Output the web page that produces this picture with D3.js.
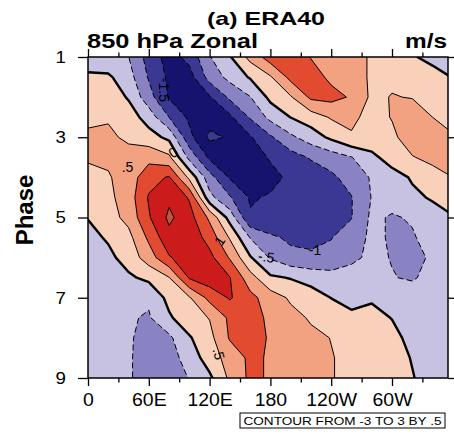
<!DOCTYPE html>
<meta charset="utf-8">
<style>

body {
  margin: 0;
  background: #fff;
}

text {
  font-family: "Liberation Sans", Arial, Helvetica, sans-serif;
}

.axis path.domain {
  display: none;
}

.axis line {
  stroke: #000;
  stroke-width: 1.3px;
}

</style>
<svg width="454" height="434"></svg>
<script src="https://d3js.org/d3.v7.min.js"></script>
<script>

// grid the field is sampled on: longitude (deg E) and MJO phase
var lons = d3.range(0, 361, 20),
    phases = d3.range(1, 9.01, 0.5);

// 850 hPa zonal wind anomaly (m/s), one row per half phase
var p10 = [-0.25, -0.38, -0.49, -1.2, -1.7, -1.35, -0.53, -0.04, 0.65, 1.25, 1.3, 0.98, 0.8, 0.63, 0.46, 0.25, 0.05, -0.15, -0.3],
    p15 = [0.08, 0.08, -0.3, -1.05, -1.6, -1.7, -0.8, -0.35, 0.05, 0.45, 1.15, 1.2, 0.9, 0.66, 0.45, 0.42, 0.4, 0.2, -0.02],
    p20 = [0.3, 0.3, -0.05, -0.8, -1.55, -1.75, -1.55, -0.9, -0.52, 0.13, 0.45, 1.1, 1.15, 0.95, 0.4, 0.52, 0.48, 0.3, 0.15],
    p25 = [0.38, 0.45, 0.25, -0.22, -1.0, -1.6, -1.8, -1.6, -0.95, -0.36, 0.01, 0.25, 0.55, 0.6, 0.35, 0.52, 0.75, 0.5, 0.3],
    p30 = [0.6, 0.6, 0.4, 0.2, -0.12, -1.35, -2.1, -1.95, -1.55, -1.07, -0.6, -0.25, 0.1, 0.45, 0.3, 0.42, 0.7, 0.7, 0.55],
    p35 = [0.58, 0.6, 0.7, 0.85, 0.6, -0.65, -1.6, -1.8, -1.75, -1.45, -1.2, -0.95, -0.75, -0.52, -0.12, 0.22, 0.48, 0.6, 0.55],
    p40 = [0.3, 0.45, 0.75, 1.3, 1.55, 0.38, -0.8, -1.55, -1.85, -1.65, -1.4, -1.3, -1.1, -0.8, -0.45, -0.2, 0.05, 0.35, 0.5],
    p45 = [0.25, 0.38, 0.75, 1.55, 1.9, 1.45, -0.35, -0.95, -1.55, -1.45, -1.4, -1.35, -1.25, -1.02, -0.48, -0.3, -0.1, 0.05, 0.15],
    p50 = [0.02, 0.3, 0.65, 1.45, 2.1, 1.7, 0.9, -0.2, -1.45, -1.48, -1.45, -1.35, -1.25, -1.02, -0.4, -0.55, -0.45, -0.2, -0.02],
    p55 = [-0.15, 0.06, 0.35, 1.1, 1.85, 1.85, 1.3, 0.45, -0.52, -0.9, -1.1, -1.15, -1.02, -0.75, -0.4, -0.55, -0.55, -0.3, -0.25],
    p60 = [-0.3, -0.12, 0.2, 0.75, 1.45, 1.8, 1.65, 0.95, 0.05, -0.55, -0.85, -0.9, -0.85, -0.6, -0.4, -0.52, -0.6, -0.45, -0.3],
    p65 = [-0.3, -0.25, -0.08, 0.12, 0.48, 1.55, 1.8, 1.52, 0.7, 0.08, -0.03, -0.2, -0.3, -0.3, -0.3, -0.48, -0.55, -0.35, -0.3],
    p70 = [-0.35, -0.35, -0.3, -0.42, 0.15, 0.45, 1.15, 1.55, 1.15, 0.75, 0.43, 0.25, -0.01, -0.15, -0.04, -0.15, -0.25, -0.25, -0.25],
    p75 = [-0.35, -0.4, -0.45, -0.55, -0.07, 0.3, 0.52, 1.1, 1.2, 0.9, 0.65, 0.45, 0.3, 0.1, 0.1, -0.01, -0.2, -0.3, -0.3],
    p80 = [-0.35, -0.4, -0.45, -0.65, -0.6, -0.05, 0.35, 1.05, 1.2, 0.95, 0.75, 0.6, 0.49, 0.35, 0.25, 0.1, -0.1, -0.25, -0.3],
    p85 = [-0.35, -0.4, -0.45, -0.7, -0.7, -0.3, 0.25, 0.7, 1.1, 0.95, 0.8, 0.65, 0.52, 0.4, 0.3, 0.15, -0.02, -0.2, -0.3],
    p90 = [-0.35, -0.4, -0.45, -0.7, -0.75, -0.48, -0.1, 0.6, 1.1, 0.95, 0.8, 0.65, 0.52, 0.4, 0.3, 0.15, 0.02, -0.15, -0.25];

var field = [p10, p15, p20, p25, p30, p35, p40, p45, p50, p55, p60, p65, p70, p75, p80, p85, p90];

// shading levels (lower bound of each band) and their colours
var bands = [-2.5, -2, -1.5, -1, -0.5, 0, 0.5, 1, 1.5, 2],
    bandColors = ["#3d3b88", "#15136e", "#3a3893", "#8a83c3", "#c7c2e2",
                  "#f9d1ba", "#f2a181", "#e34b31", "#cb1c1b", "#c4553d"];

var lineLevels = [-2, -1.5, -1, -0.5, 0, 0.5, 1, 1.5, 2];

var xTicks = [0, 60, 120, 180, 240, 300],
    xTickLabels = ["0", "60E", "120E", "180", "120W", "60W"],
    xMinor = [30, 90, 150, 210, 270, 330],
    yTicks = [1, 3, 5, 7, 9];

// contour labels as drawn in the figure
var contourLabels = [
  {lon: 75, phase: 1.82, text: "-1.5", angle: 90},
  {lon: 84, phase: 3.38, text: "0", angle: -35},
  {lon: 39, phase: 3.75, text: ".5", angle: 0},
  {lon: 130, phase: 5.58, text: "1", angle: -55},
  {lon: 176, phase: 5.98, text: "-.5", angle: 8},
  {lon: 224, phase: 5.8, text: "-1", angle: 0},
  {lon: 129, phase: 8.4, text: ".5", angle: 75}
];

var svg = d3.select("svg");

var x = d3.scaleLinear().domain([0, 360]).range([88, 452.8]),
    y = d3.scaleLinear().domain([1, 9]).range([57, 378]);

var fx0 = 88, fy0 = 57, fx1 = 448, fy1 = 378;

svg.append("clipPath")
    .attr("id", "clip")
  .append("rect")
    .attr("x", fx0)
    .attr("y", fy0)
    .attr("width", fx1 - fx0)
    .attr("height", fy1 - fy0);

var nx = lons.length, ny = phases.length;
var values = [];
field.forEach(function(row) { row.forEach(function(v) { values.push(v); }); });

var contours = d3.contours().size([nx, ny]);

// grid index -> pixel (d3.contours puts sample i at i + 0.5)
function px(c) { return x(lons[0] + (c - 0.5) * (lons[1] - lons[0])); }
function py(r) { return y(phases[0] + (r - 0.5) * (phases[1] - phases[0])); }

function ringPath(geom) {
  return geom.coordinates.map(function(poly) {
    return poly.map(function(ring) {
      return "M" + ring.map(function(p) { return px(p[0]).toFixed(2) + "," + py(p[1]).toFixed(2); }).join("L") + "Z";
    }).join("");
  }).join("");
}

var plot = svg.append("g").attr("clip-path", "url(#clip)");

plot.append("rect")
    .attr("x", fx0)
    .attr("y", fy0)
    .attr("width", fx1 - fx0)
    .attr("height", fy1 - fy0)
    .attr("fill", bandColors[0]);

plot.selectAll(".band")
    .data(bands)
  .enter().append("path")
    .attr("class", "band")
    .attr("d", function(t) { return ringPath(contours.contour(values, t)); })
    .attr("fill", function(t, i) { return bandColors[i]; })
    .attr("fill-rule", "evenodd")
    .attr("stroke", "none");

plot.selectAll(".cline")
    .data(lineLevels)
  .enter().append("path")
    .attr("class", "cline")
    .attr("d", function(t) { return ringPath(contours.contour(values, t)); })
    .attr("fill", "none")
    .attr("stroke", "#000")
    .attr("stroke-linejoin", "round")
    .attr("stroke-width", function(t) { return t === 0 ? 2.4 : 1; })
    .attr("stroke-dasharray", function(t) { return t < 0 ? "6,3" : null; });

plot.selectAll(".clabel")
    .data(contourLabels)
  .enter().append("text")
    .attr("class", "clabel")
    .attr("transform", function(d) { return "translate(" + x(d.lon) + "," + y(d.phase) + ") rotate(" + d.angle + ")"; })
    .attr("text-anchor", "middle")
    .attr("dy", "0.35em")
    .attr("font-size", 14)
    .text(function(d) { return d.text; });

// frame
svg.append("rect")
    .attr("x", fx0)
    .attr("y", fy0)
    .attr("width", fx1 - fx0)
    .attr("height", fy1 - fy0)
    .attr("fill", "none")
    .attr("stroke", "#000")
    .attr("stroke-width", 1.5);

function stretch(sel, k) {
  sel.selectAll("text")
      .attr("lengthAdjust", "spacingAndGlyphs")
      .attr("textLength", function() { return this.getComputedTextLength() * k; });
}

var xb = svg.append("g")
    .attr("class", "axis")
    .attr("transform", "translate(0," + fy1 + ")")
    .call(d3.axisBottom(x).tickValues(xTicks).tickSize(8).tickPadding(7)
      .tickFormat(function(d, i) { return xTickLabels[i]; }));
xb.selectAll("text").attr("font-size", 18).attr("fill", "#000").style("font-family", null);
stretch(xb, 1.08);

svg.append("g")
    .attr("class", "axis")
    .attr("transform", "translate(0," + fy1 + ")")
    .call(d3.axisBottom(x).tickValues(xMinor).tickSize(4.5).tickFormat(""));

svg.append("g")
    .attr("class", "axis")
    .attr("transform", "translate(0," + fy0 + ")")
    .call(d3.axisTop(x).tickValues(xTicks).tickSize(8).tickFormat(""));

svg.append("g")
    .attr("class", "axis")
    .attr("transform", "translate(0," + fy0 + ")")
    .call(d3.axisTop(x).tickValues(xMinor).tickSize(4.5).tickFormat(""));

var yl = svg.append("g")
    .attr("class", "axis")
    .attr("transform", "translate(" + fx0 + ",0)")
    .call(d3.axisLeft(y).tickValues(yTicks).tickSize(10).tickPadding(12).tickFormat(d3.format("d")));
yl.selectAll("text").attr("font-size", 17).attr("fill", "#000").style("font-family", null);
stretch(yl, 1.1);

svg.append("g")
    .attr("class", "axis")
    .attr("transform", "translate(" + fx1 + ",0)")
    .call(d3.axisRight(y).tickValues(yTicks).tickSize(6).tickFormat(""));

// titles
svg.append("text")
    .attr("x", 266)
    .attr("y", 25)
    .attr("text-anchor", "middle")
    .attr("font-size", 19)
    .attr("font-weight", "bold")
    .attr("textLength", 118)
    .attr("lengthAdjust", "spacingAndGlyphs")
    .text("(a) ERA40");

svg.append("text")
    .attr("x", 87)
    .attr("y", 48)
    .attr("font-size", 21)
    .attr("font-weight", "bold")
    .attr("textLength", 171)
    .attr("lengthAdjust", "spacingAndGlyphs")
    .text("850 hPa Zonal");

svg.append("text")
    .attr("x", 447)
    .attr("y", 48)
    .attr("text-anchor", "end")
    .attr("font-size", 21)
    .attr("font-weight", "bold")
    .attr("textLength", 42)
    .attr("lengthAdjust", "spacingAndGlyphs")
    .text("m/s");

svg.append("text")
    .attr("transform", "translate(33,210) rotate(-90)")
    .attr("text-anchor", "middle")
    .attr("font-size", 24)
    .attr("font-weight", "bold")
    .text("Phase");

// contour info box
svg.append("rect")
    .attr("x", 240)
    .attr("y", 413)
    .attr("width", 205)
    .attr("height", 15)
    .attr("fill", "#fff")
    .attr("stroke", "#000")
    .attr("stroke-width", 1);

svg.append("text")
    .attr("x", 342.5)
    .attr("y", 424.8)
    .attr("text-anchor", "middle")
    .attr("font-size", 11.5)
    .attr("textLength", 198)
    .attr("lengthAdjust", "spacingAndGlyphs")
    .text("CONTOUR FROM -3 TO 3 BY .5");

</script>
